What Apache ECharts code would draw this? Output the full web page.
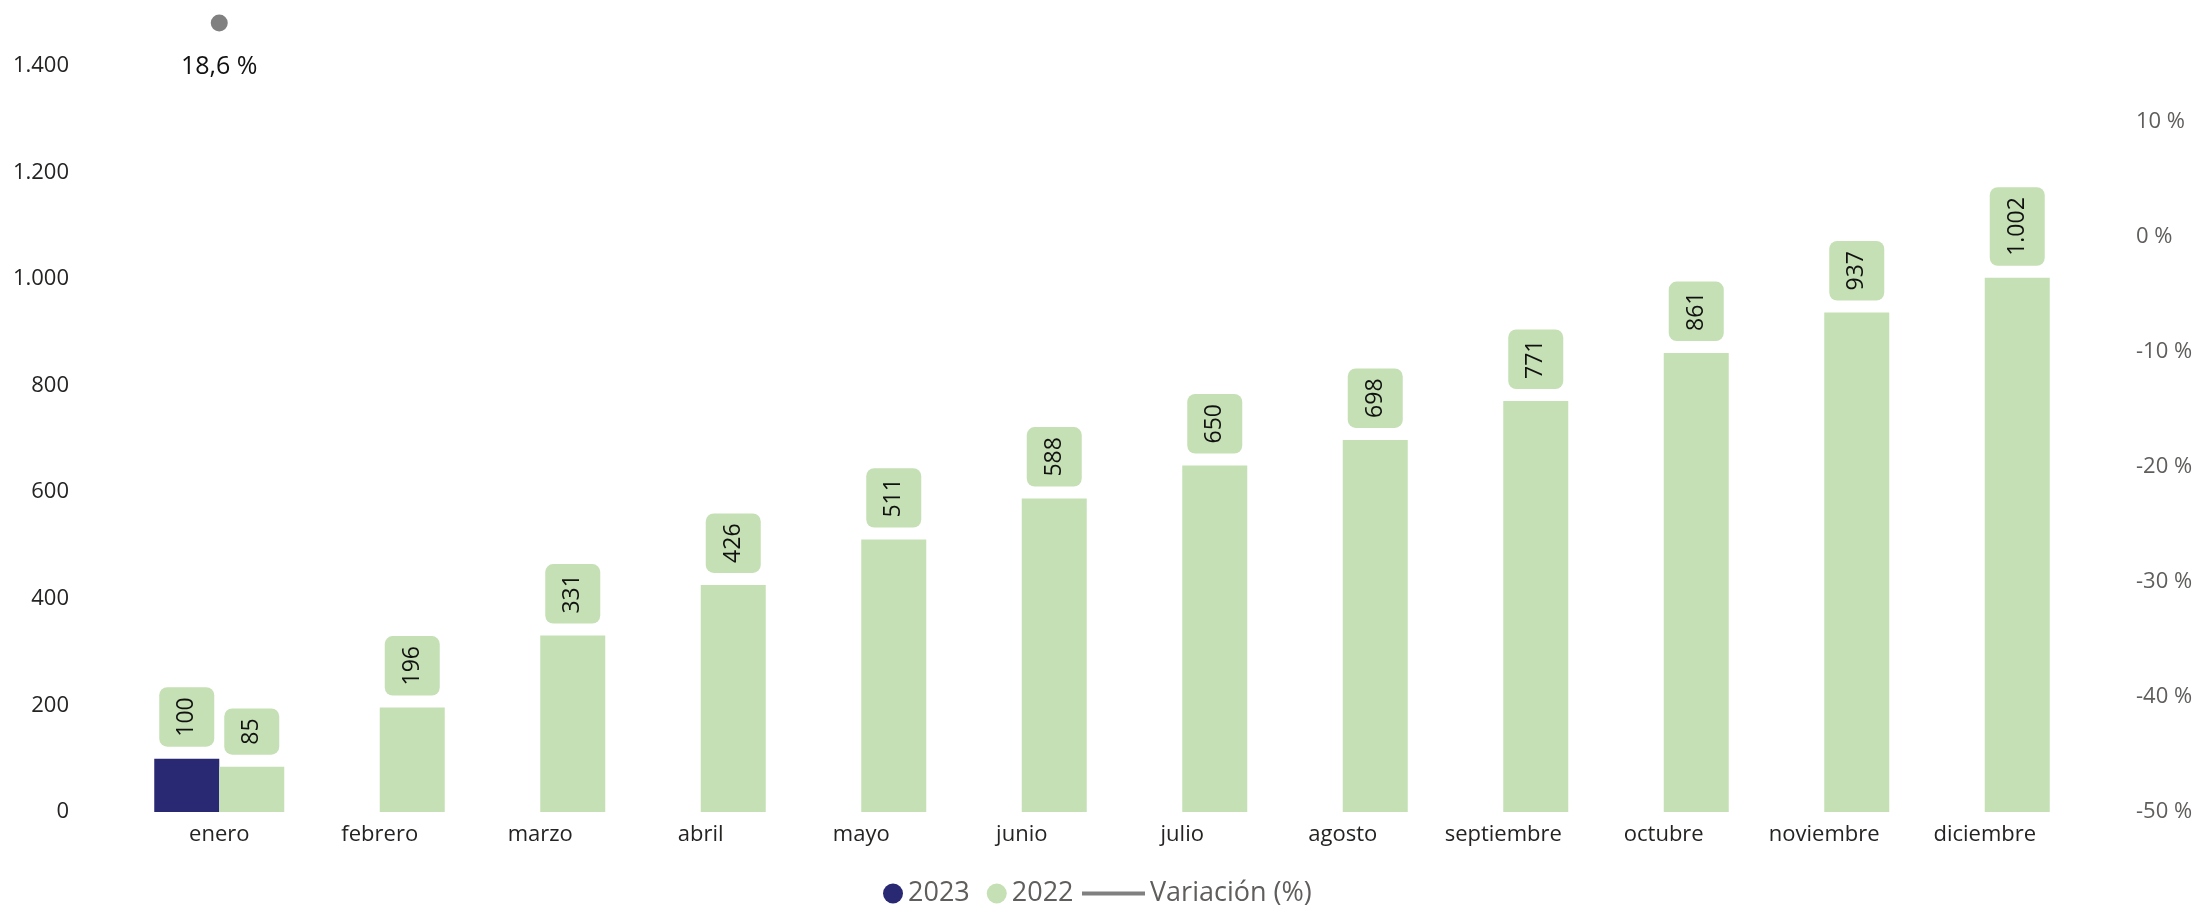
<!DOCTYPE html>
<html>
<head>
<meta charset="utf-8">
<script src="https://cdn.jsdelivr.net/npm/echarts@6/dist/echarts.min.js"></script>
<style>
html,body{margin:0;padding:0;background:#fff;}
#c{width:2201px;height:909px;}
</style>
</head>
<body>
<div id="c"></div>
<script>
const categories = ['enero','febrero','marzo','abril','mayo','junio','julio','agosto','septiembre','octubre','noviembre','diciembre'];
const values2023 = [100, null, null, null, null, null, null, null, null, null, null, null];
const values2022 = [85, 196, 331, 426, 511, 588, 650, 698, 771, 861, 937, 1002];
const variacion = [18.6, null, null, null, null, null, null, null, null, null, null, null];

const FONT = "'Segoe UI', 'Open Sans', sans-serif";
function fmtThousands(v){
  return String(Math.round(v)).replace(/\B(?=(\d{3})+(?!\d))/g, '.');
}
function fmtPct(v){
  return String(v).replace('.', ',') + ' %';
}

const barLabel = {
  show: true,
  position: 'top',
  distance: 12,
  rotate: 90,
  align: 'left',
  verticalAlign: 'middle',
  backgroundColor: '#C5E0B4',
  borderRadius: 8,
  padding: [14, 10, 14, 10],
  fontSize: 23,
  lineHeight: 27,
  fontFamily: FONT,
  color: '#111',
  formatter: p => fmtThousands(p.value)
};

const chart = echarts.init(document.getElementById('c'));
chart.setOption({
  animation: false,
  backgroundColor: '#fff',
  grid: {left: 139, right: 136, top: 7, bottom: 97, containLabel: false},
  legend: [
    {
      data: ['2023', '2022'],
      left: 883, top: 880, padding: 0,
      icon: 'circle', itemWidth: 20, itemHeight: 20, itemGap: 17,
      textStyle: {fontSize: 27, color: '#605E5C', fontFamily: FONT}
    },
    {
      data: ['Variación (%)'],
      left: 1082, top: 880, padding: 0,
      icon: 'rect', itemWidth: 63, itemHeight: 4,
      textStyle: {fontSize: 27, color: '#605E5C', fontFamily: FONT}
    }
  ],
  xAxis: {
    type: 'category',
    data: categories,
    axisLine: {show: false},
    axisTick: {show: false},
    axisLabel: {fontSize: 22, color: '#252423', fontFamily: FONT, margin: 12}
  },
  yAxis: [
    {
      type: 'value', min: 0, max: 1510, interval: 200,
      splitLine: {show: false}, axisLine: {show: false}, axisTick: {show: false},
      axisLabel: {fontSize: 22, color: '#252423', fontFamily: FONT, margin: 70,
        showMaxLabel: false, formatter: v => fmtThousands(v)}
    },
    {
      type: 'value', min: -50, max: 20, interval: 10, position: 'right',
      splitLine: {show: false}, axisLine: {show: false}, axisTick: {show: false},
      axisLabel: {fontSize: 22, color: '#605E5C', fontFamily: FONT, margin: 71,
        showMaxLabel: false, formatter: v => v + ' %'}
    }
  ],
  series: [
    {
      name: '2023', type: 'bar', data: values2023, barWidth: 65, barGap: '0%',
      itemStyle: {color: '#282873'}, label: barLabel
    },
    {
      name: '2022', type: 'bar', data: values2022, barWidth: 65, barGap: '0%',
      itemStyle: {color: '#C5E0B4'}, label: barLabel
    },
    {
      name: 'Variación (%)', type: 'line', yAxisIndex: 1, data: variacion,
      symbol: 'circle', symbolSize: 17, showSymbol: true,
      itemStyle: {color: '#808080'}, lineStyle: {color: '#808080', width: 3},
      label: {show: true, position: 'bottom', distance: 23, fontSize: 25,
        color: '#111', fontFamily: FONT, formatter: p => fmtPct(p.value)}
    }
  ]
});
</script>
</body>
</html>
